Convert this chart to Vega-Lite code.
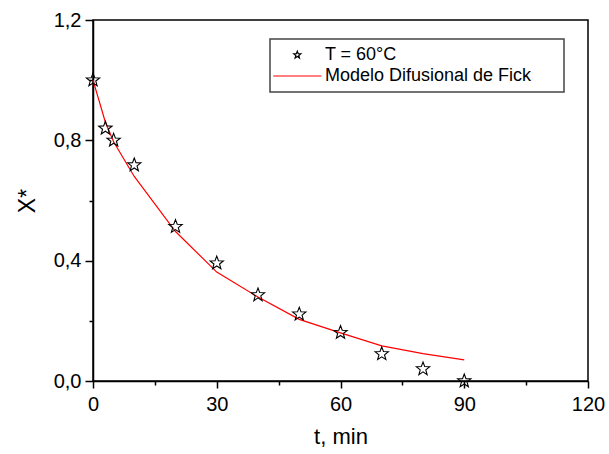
{
  "$schema": "https://vega.github.io/schema/vega-lite/v6.json",
  "width": 495,
  "height": 361,
  "autosize": "none",
  "padding": {"left": 93, "top": 20, "right": 21, "bottom": 73},
  "background": "white",
  "config": {
    "font": "Liberation Sans",
    "view": {"stroke": "black", "strokeWidth": 1.5},
    "axis": {
      "grid": false,
      "domainColor": "black",
      "domainWidth": 1.5,
      "tickColor": "black",
      "tickWidth": 1.5,
      "labelColor": "black",
      "titleColor": "black",
      "labelFont": "Liberation Sans",
      "titleFont": "Liberation Sans",
      "labelFontSize": 20,
      "titleFontSize": 22,
      "titleFontWeight": "normal",
      "labelOverlap": false,
      "labelFlush": false
    },
    "legend": {
      "padding": 7,
      "strokeColor": "#444444",
      "strokeWidth": 1.5,
      "fillColor": "white",
      "symbolSize": 55,
      "symbolOffset": 11.3,
      "labelOffset": 18.6,
      "labelFontSize": 18,
      "labelFont": "Liberation Sans",
      "labelColor": "black",
      "rowPadding": 3,
      "symbolStrokeWidth": 1.2,
      "labelLimit": 500
    }
  },
  "datasets": {
    "exp": [
      {"t": 0, "X": 1.0, "serie": "T = 60°C"},
      {"t": 3, "X": 0.84, "serie": "T = 60°C"},
      {"t": 5, "X": 0.80, "serie": "T = 60°C"},
      {"t": 10, "X": 0.718, "serie": "T = 60°C"},
      {"t": 20, "X": 0.513, "serie": "T = 60°C"},
      {"t": 30, "X": 0.392, "serie": "T = 60°C"},
      {"t": 40, "X": 0.286, "serie": "T = 60°C"},
      {"t": 50, "X": 0.222, "serie": "T = 60°C"},
      {"t": 60, "X": 0.161, "serie": "T = 60°C"},
      {"t": 70, "X": 0.09, "serie": "T = 60°C"},
      {"t": 80, "X": 0.04, "serie": "T = 60°C"},
      {"t": 90, "X": 0.0, "serie": "T = 60°C"}
    ],
    "model": [
      {"t": 0, "X": 1.0, "serie": "Modelo Difusional de Fick"},
      {"t": 3, "X": 0.86, "serie": "Modelo Difusional de Fick"},
      {"t": 5, "X": 0.795, "serie": "Modelo Difusional de Fick"},
      {"t": 10, "X": 0.68, "serie": "Modelo Difusional de Fick"},
      {"t": 20, "X": 0.497, "serie": "Modelo Difusional de Fick"},
      {"t": 30, "X": 0.362, "serie": "Modelo Difusional de Fick"},
      {"t": 40, "X": 0.279, "serie": "Modelo Difusional de Fick"},
      {"t": 50, "X": 0.205, "serie": "Modelo Difusional de Fick"},
      {"t": 60, "X": 0.16, "serie": "Modelo Difusional de Fick"},
      {"t": 70, "X": 0.117, "serie": "Modelo Difusional de Fick"},
      {"t": 80, "X": 0.091, "serie": "Modelo Difusional de Fick"},
      {"t": 90, "X": 0.07, "serie": "Modelo Difusional de Fick"}
    ]
  },
  "layer": [
    {
      "data": {"name": "model"},
      "mark": {"type": "line", "strokeWidth": 1.2},
      "encoding": {
        "x": {
          "field": "t",
          "type": "quantitative",
          "scale": {"domain": [0, 120], "nice": false},
          "axis": {
            "values": [0, 15, 30, 45, 60, 75, 90, 105, 120],
            "labelExpr": "datum.value % 30 === 0 ? datum.label : ''",
            "tickSize": {"condition": {"test": "datum.value % 30 === 0", "value": 7}, "value": 4},
            "title": "t, min",
            "labelPadding": 6,
            "titlePadding": 12
          }
        },
        "y": {
          "field": "X",
          "type": "quantitative",
          "scale": {"domain": [0, 1.2], "nice": false},
          "axis": {
            "values": [0, 0.2, 0.4, 0.6, 0.8, 1.0, 1.2],
            "labelExpr": "round(datum.value*10) % 4 === 0 ? replace(format(datum.value, '.1f'), '.', ',') : ''",
            "tickSize": {"condition": {"test": "round(datum.value*10) % 4 === 0", "value": 8}, "value": 4},
            "title": "X*",
            "titleFontSize": 23,
            "titlePadding": 14,
            "labelPadding": 4
          }
        },
        "color": {
          "field": "serie",
          "type": "nominal",
          "scale": {"domain": ["T = 60°C", "Modelo Difusional de Fick"], "range": ["black", "#ff0000"]},
          "legend": {"title": null, "orient": "none", "legendX": 177, "legendY": 19, "labelExpr": "datum.label + '\u2800\u2800'"}
        }
      }
    },
    {
      "data": {"name": "exp"},
      "mark": {"type": "point", "filled": false, "size": 196, "strokeWidth": 1.1, "opacity": 1},
      "encoding": {
        "x": {"field": "t", "type": "quantitative"},
        "y": {"field": "X", "type": "quantitative"},
        "color": {"field": "serie", "type": "nominal", "legend": {"title": null, "orient": "none", "legendX": 177, "legendY": 19, "labelExpr": "datum.label + '\u2800\u2800'"}},
        "shape": {
          "field": "serie",
          "type": "nominal",
          "scale": {
            "domain": ["T = 60°C", "Modelo Difusional de Fick"],
            "range": [
              "M0,-1L0.247,-0.34L0.951,-0.309L0.399,0.13L0.588,0.809L0,0.42L-0.588,0.809L-0.399,0.13L-0.951,-0.309L-0.247,-0.34Z",
              "M-6.5,0H6.5"
            ]
          },
          "legend": {"title": null, "orient": "none", "legendX": 177, "legendY": 19, "labelExpr": "datum.label + '\u2800\u2800'"}
        }
      }
    }
  ]
}
